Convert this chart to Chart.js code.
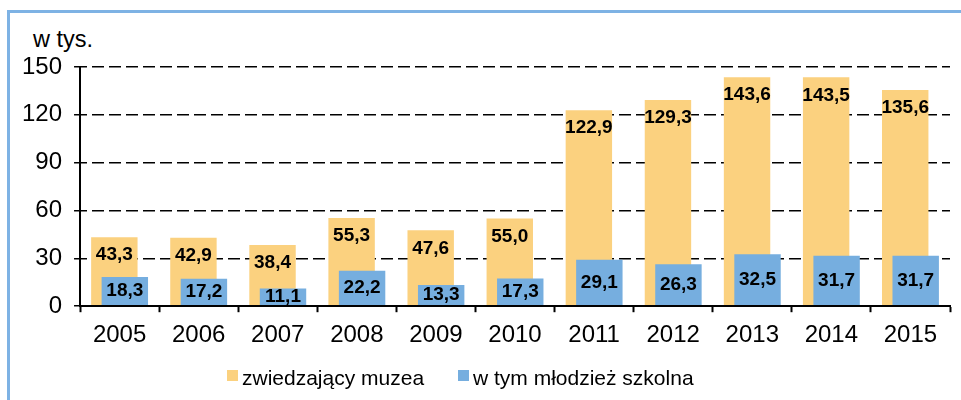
<!DOCTYPE html>
<html>
<head>
<meta charset="utf-8">
<script src="https://cdn.jsdelivr.net/npm/chart.js@4.4.1/dist/chart.umd.min.js"></script>
<style>
  body { margin: 0; background: #fff; overflow: hidden; font-family: 'Liberation Sans', Arial, sans-serif; }
  #wrap { position: relative; width: 961px; height: 400px; overflow: hidden; }
  #frame { position: absolute; left: 7px; top: 10px; width: 1100px; height: 500px;
           border-left: 3px solid #7eb2e4; border-top: 3px solid #7eb2e4; }
  #myChart { position: absolute; left: 0; top: 0; }
  .unit { position: absolute; left: 33px; top: 28px; font-size: 23.5px; line-height: 1; color: #000; }
  .lgBox { position: absolute; width: 11px; height: 11px; }
  .lgTxt { position: absolute; font-size: 21px; line-height: 1; color: #000; white-space: nowrap; }
</style>
</head>
<body>
<div id="wrap">
  <div id="frame"></div>
  <div class="unit">w tys.</div>
  <canvas id="myChart" width="961" height="400"></canvas>
  <div id="legend"></div>
</div>
<script>
const years = ['2005', '2006', '2007', '2008', '2009', '2010', '2011', '2012', '2013', '2014', '2015'];
const seriesNames = ['zwiedzający muzea', 'w tym młodzież szkolna'];
const visitors = [43.3, 42.9, 38.4, 55.3, 47.6, 55.0, 122.9, 129.3, 143.6, 143.5, 135.6];
const pupils = [18.3, 17.2, 11.1, 22.2, 13.3, 17.3, 29.1, 26.3, 32.5, 31.7, 31.7];
const yTicks = [0, 30, 60, 90, 120, 150];
const colors = ['#fbd17f', '#76aedf'];

const fontFam = "'Liberation Sans', Arial, sans-serif";
Chart.defaults.font.family = fontFam;
Chart.defaults.color = '#000';

// legend in html
const legend = document.getElementById('legend');
const lgX = [227, 458];
seriesNames.forEach((name, i) => {
  const b = document.createElement('div');
  b.className = 'lgBox';
  b.style.left = lgX[i] + 'px';
  b.style.top = '370px';
  b.style.background = colors[i];
  legend.appendChild(b);
  const t = document.createElement('div');
  t.className = 'lgTxt';
  t.style.left = (lgX[i] + 15) + 'px';
  t.style.top = '367px';
  t.textContent = name;
  legend.appendChild(t);
});

const fmt = v => v.toFixed(1).replace('.', ',');

// niebieskie słupki rysowane na wierzchu + podpisy wartości
let lateDraw = false;
const valueLabels = {
  id: 'valueLabels',
  beforeDatasetDraw(chart, args) {
    if (args.index === 1 && !lateDraw) return false;
  },
  afterDatasetsDraw(chart) {
    const c = chart.ctx;
    lateDraw = true;
    c.save();
    chart.getDatasetMeta(1).controller.draw();
    c.restore();
    lateDraw = false;

    c.save();
    c.font = 'bold 19px ' + fontFam;
    c.fillStyle = '#000';
    c.textAlign = 'center';
    c.textBaseline = 'middle';
    chart.data.datasets.forEach((ds, i) => {
      chart.getDatasetMeta(i).data.forEach((bar, j) => {
        const y = i === 0 ? bar.y + 18 : (bar.y + bar.base) / 2;
        c.fillText(fmt(ds.data[j]), bar.x, y);
      });
    });
    c.restore();
  }
};

const ctx = document.getElementById('myChart');
new Chart(ctx, {
  type: 'bar',
  data: {
    labels: years,
    datasets: [
      { label: seriesNames[0], data: visitors, backgroundColor: colors[0] },
      { label: seriesNames[1], data: pupils, backgroundColor: colors[1] }
    ]
  },
  options: {
    responsive: false,
    animation: false,
    devicePixelRatio: 1,
    categoryPercentage: 0.265,
    barPercentage: 4.43,
    layout: { padding: { left: 10, right: 11, top: 67, bottom: 41 } },
    plugins: {
      legend: { display: false },
      tooltip: { enabled: false }
    },
    scales: {
      x: {
        grid: { display: true, drawOnChartArea: false, drawTicks: true, tickLength: 6, tickColor: '#000', tickWidth: 2 },
        border: { display: true, color: '#000', width: 2, z: 1 },
        ticks: { font: { size: 24 }, padding: 9, color: '#000' }
      },
      y: {
        min: 0,
        max: 150,
        afterBuildTicks: axis => { axis.ticks = yTicks.map(v => ({ value: v })); },
        grid: { color: '#000', lineWidth: 1.5, drawTicks: true, tickLength: 6, tickColor: '#000', tickWidth: 1.5 },
        border: { display: true, color: '#000', width: 2, z: 1, dash: [12, 5], dashOffset: 6 },
        ticks: { font: { size: 24 }, padding: 12, color: '#000' }
      }
    }
  },
  plugins: [valueLabels]
});
</script>
</body>
</html>
